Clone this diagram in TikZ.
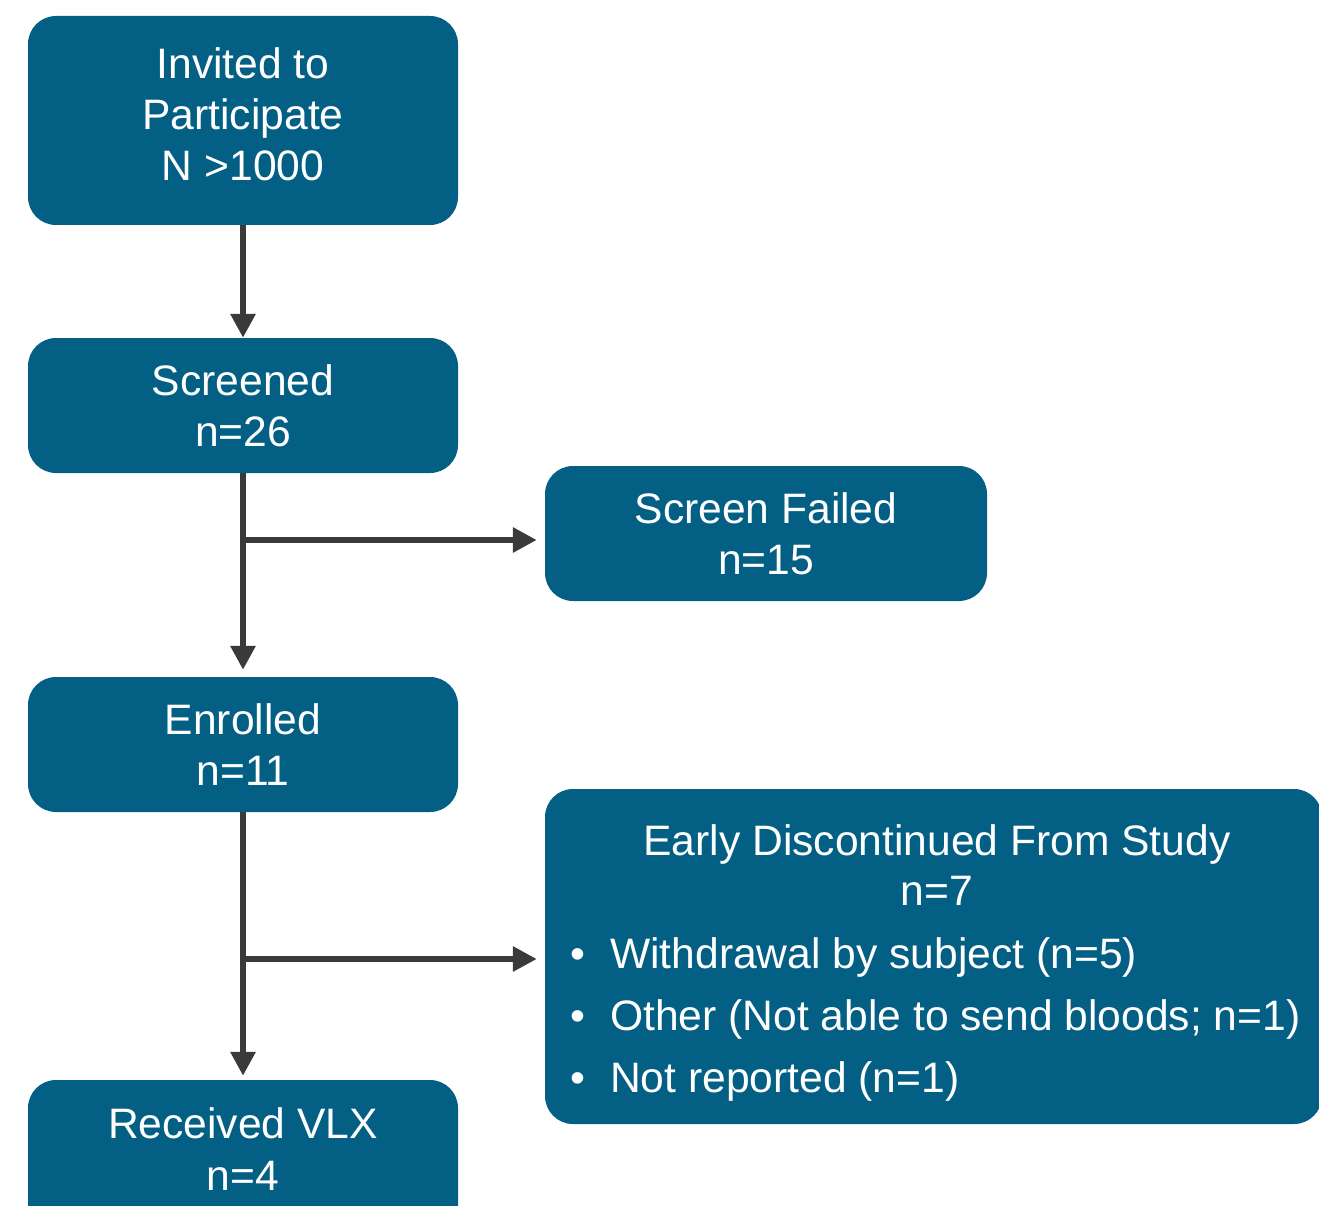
\documentclass[tikz,border=0pt]{standalone}
\usepackage{fontspec}
\setmainfont{Liberation Sans}
\usetikzlibrary{arrows.meta}
\definecolor{boxblue}{RGB}{3,96,132}
\definecolor{linegray}{RGB}{58,58,58}
\tikzset{
  box/.style={fill=boxblue, draw=none, rounded corners=28pt, text=white, align=center,
    font=\fontsize{42.6}{51}\selectfont, inner sep=0pt},
  txt/.style={text=white, inner sep=0pt, align=center, font=\fontsize{42.6}{51}\selectfont},
  conn/.style={draw=linegray, line width=6pt, -{Triangle[length=24pt,width=24pt]}},
  trunk/.style={draw=linegray, line width=6pt}
}
\begin{document}
\begin{tikzpicture}[x=1pt,y=-1pt]
\useasboundingbox (0,0) rectangle (1319,1206);
\node[box, minimum width=430pt, minimum height=209pt] (inv) at (243,120.5) {};
\node[txt] (invt) at (243,114.5) {Invited to\\Participate\\N >1000};
\node[box, minimum width=430pt, minimum height=135pt] (scr) at (243,405.5) {Screened\\n=26};
\node[box, minimum width=442pt, minimum height=135pt] (sf) at (766,533.5) {Screen Failed\\n=15};
\node[box, minimum width=430pt, minimum height=135pt] (enr) at (243,744.5) {Enrolled\\n=11};
\node[box, minimum width=777pt, minimum height=335pt] (edc) at (933.5,956.5) {};
\node[box, minimum width=430pt, minimum height=170pt] (rec) at (243,1165) {};
\node[txt, anchor=base] (rect1) at (243,1138) {Received VLX};
\node[txt, anchor=base] (rect2) at (243,1190) {n=4};
\node[txt, anchor=base] (e1) at (937,855) {Early Discontinued From Study};
\node[txt, anchor=base] (e2) at (937,905) {n=7};
\node[txt, anchor=base west] (b1) at (610,968) {Withdrawal by subject (n=5)};
\node[txt, anchor=base west] (b2) at (610,1030) {Other (Not able to send bloods; n=1)};
\node[txt, anchor=base west] (b3) at (610,1092) {Not reported (n=1)};
\node[txt, anchor=base] (d1) at (578,968) {•};
\node[txt, anchor=base] (d2) at (578,1030) {•};
\node[txt, anchor=base] (d3) at (578,1092) {•};
\coordinate (j1) at (243,540);
\coordinate (j2) at (243,959);
\draw[conn] (inv.south) -- (scr.north);
\draw[conn, shorten >=7pt] (scr.south) -- (enr.north);
\draw[conn, shorten >=8pt] (j1) -- (j1 -| sf.west);
\draw[conn, shorten >=4pt] (enr.south) -- (rec.north);
\draw[conn, shorten >=8pt] (j2) -- (j2 -| edc.west);
\end{tikzpicture}
\end{document}
